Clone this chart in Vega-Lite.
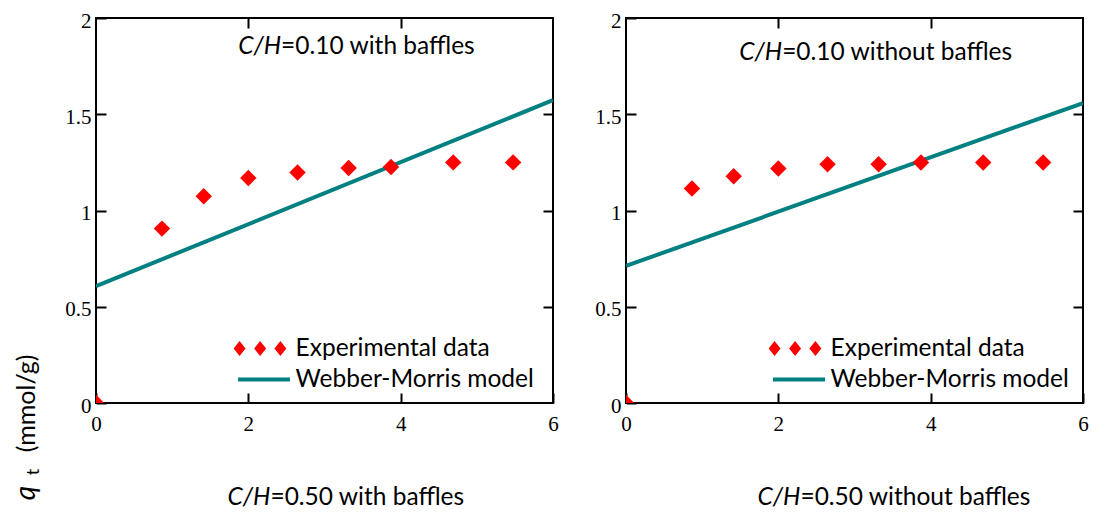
{
  "$schema": "https://vega.github.io/schema/vega-lite/v6.json",
  "padding": {"left": 12, "top": 9, "right": 0, "bottom": 0},
  "background": "white",
  "datasets": {
    "kinetics": [
      {"panel": "with baffles", "series": "Experimental data", "sqrt_t": 0, "qt": 0},
      {"panel": "with baffles", "series": "Experimental data", "sqrt_t": 0.866, "qt": 0.906},
      {"panel": "with baffles", "series": "Experimental data", "sqrt_t": 1.414, "qt": 1.074},
      {"panel": "with baffles", "series": "Experimental data", "sqrt_t": 2.0, "qt": 1.169},
      {"panel": "with baffles", "series": "Experimental data", "sqrt_t": 2.646, "qt": 1.197},
      {"panel": "with baffles", "series": "Experimental data", "sqrt_t": 3.317, "qt": 1.221},
      {"panel": "with baffles", "series": "Experimental data", "sqrt_t": 3.873, "qt": 1.226},
      {"panel": "with baffles", "series": "Experimental data", "sqrt_t": 4.69, "qt": 1.25},
      {"panel": "with baffles", "series": "Experimental data", "sqrt_t": 5.477, "qt": 1.25},
      {"panel": "with baffles", "series": "Webber-Morris model", "sqrt_t": 0, "qt": 0.607},
      {"panel": "with baffles", "series": "Webber-Morris model", "sqrt_t": 6, "qt": 1.573},
      {"panel": "without baffles", "series": "Experimental data", "sqrt_t": 0, "qt": 0},
      {"panel": "without baffles", "series": "Experimental data", "sqrt_t": 0.866, "qt": 1.114},
      {"panel": "without baffles", "series": "Experimental data", "sqrt_t": 1.414, "qt": 1.178},
      {"panel": "without baffles", "series": "Experimental data", "sqrt_t": 2.0, "qt": 1.218},
      {"panel": "without baffles", "series": "Experimental data", "sqrt_t": 2.646, "qt": 1.24},
      {"panel": "without baffles", "series": "Experimental data", "sqrt_t": 3.317, "qt": 1.24},
      {"panel": "without baffles", "series": "Experimental data", "sqrt_t": 3.873, "qt": 1.249},
      {"panel": "without baffles", "series": "Experimental data", "sqrt_t": 4.69, "qt": 1.249},
      {"panel": "without baffles", "series": "Experimental data", "sqrt_t": 5.477, "qt": 1.249},
      {"panel": "without baffles", "series": "Webber-Morris model", "sqrt_t": 0, "qt": 0.712},
      {"panel": "without baffles", "series": "Webber-Morris model", "sqrt_t": 6, "qt": 1.558}
    ]
  },
  "spacing": 73,
  "bounds": "flush",
  "resolve": {"scale": {"color": "independent"}},
  "hconcat": [
    {
      "width": 457,
      "height": 385,
      "resolve": {"axis": {"x": "independent", "y": "independent"}},
      "layer": [
        {
          "data": {"name": "kinetics"},
          "transform": [{"filter": "datum.panel === 'with baffles' && datum.series === 'Webber-Morris model'"}],
          "mark": {"type": "line", "strokeWidth": 4, "clip": true},
          "encoding": {
            "x": {"field": "sqrt_t", "type": "quantitative", "scale": {"domain": [0, 6], "nice": false, "zero": false},
                  "axis": {"orient": "bottom", "values": [0, 2, 4, 6], "title": null, "labelPadding": 20, "labelFont": "Liberation Serif", "labelFontSize": 21}},
            "y": {"field": "qt", "type": "quantitative", "scale": {"domain": [0, 2], "nice": false},
                  "axis": {"orient": "left", "values": [0, 0.5, 1, 1.5, 2], "format": "~g", "title": null, "labelPadding": 15, "labelOffset": 3, "labelFont": "Liberation Serif", "labelFontSize": 21}},
            "color": {"field": "series", "type": "nominal",
                      "scale": {"domain": ["Experimental data", "Webber-Morris model"], "range": ["#ff0000", "#008080"]},
                      "legend": {"orient": "none", "legendX": 137.6, "legendY": 315, "title": null, "padding": 0,
                                 "symbolSize": 2704, "clipHeight": 31, "rowPadding": 0, "labelOffset": 10,
                                 "labelFont": "Lato", "labelFontSize": 24.5, "labelColor": "black", "labelLimit": 400,
                                 "encode": {"symbols": {"update": {
                                   "shape": [{"test": "datum.value === 'Experimental data'", "value": "M-1,0L-0.77,-0.29L-0.54,0L-0.77,0.29Z M-0.21,0L0.02,-0.29L0.25,0L0.02,0.29Z M0.57,0L0.8,-0.29L1.03,0L0.8,0.29Z"}, {"value": "M-0.83,-0.077L1.17,-0.077L1.17,0.077L-0.83,0.077Z"}],
                                   "fill": [{"test": "datum.value === 'Experimental data'", "value": "#ff0000"}, {"value": "#008080"}],
                                   "stroke": {"value": "transparent"},
                                   "strokeWidth": {"value": 0},
                                   "opacity": {"value": 1}
                                 }}}}}
          }
        },
        {
          "data": {"name": "kinetics"},
          "transform": [{"filter": "datum.panel === 'with baffles' && datum.series === 'Experimental data'"}],
          "mark": {"type": "point", "shape": "diamond", "filled": true, "size": 270, "opacity": 1, "clip": true},
          "encoding": {
            "x": {"field": "sqrt_t", "type": "quantitative", "axis": {"orient": "top", "values": [2, 4], "labels": false, "title": null}},
            "y": {"field": "qt", "type": "quantitative", "axis": {"orient": "right", "values": [0.5, 1, 1.5], "labels": false, "title": null}},
            "color": {"field": "series", "type": "nominal"}
          }
        },
        {
          "data": {"values": [{"label": "C/H"}]},
          "mark": {"type": "text", "font": "Lato", "fontSize": 24.5, "fontStyle": "italic", "align": "right", "baseline": "alphabetic", "color": "black"},
          "encoding": {"text": {"field": "label"}, "x": {"datum": 2.43, "type": "quantitative", "axis": null}, "y": {"datum": 1.811, "type": "quantitative", "axis": null}}
        },
        {
          "data": {"values": [{"label": "=0.10 with baffles"}]},
          "mark": {"type": "text", "font": "Lato", "fontSize": 24.5, "align": "left", "baseline": "alphabetic", "color": "black"},
          "encoding": {"text": {"field": "label"}, "x": {"datum": 2.43, "type": "quantitative", "axis": null}, "y": {"datum": 1.811, "type": "quantitative", "axis": null}}
        },
        {
          "data": {"values": [{"label": "C/H"}]},
          "mark": {"type": "text", "font": "Lato", "fontSize": 24.5, "fontStyle": "italic", "align": "right", "baseline": "alphabetic", "color": "black"},
          "encoding": {"text": {"field": "label"}, "x": {"datum": 2.29, "type": "quantitative", "axis": null}, "y": {"datum": -0.531, "type": "quantitative", "axis": null}}
        },
        {
          "data": {"values": [{"label": "=0.50 with baffles"}]},
          "mark": {"type": "text", "font": "Lato", "fontSize": 24.5, "align": "left", "baseline": "alphabetic", "color": "black"},
          "encoding": {"text": {"field": "label"}, "x": {"datum": 2.29, "type": "quantitative", "axis": null}, "y": {"datum": -0.531, "type": "quantitative", "axis": null}}
        },
        {
          "data": {"values": [{"label": "q"}]},
          "mark": {"type": "text", "font": "Lato", "fontSize": 28, "fontStyle": "italic", "align": "left", "baseline": "alphabetic", "angle": 270, "color": "black"},
          "encoding": {"text": {"field": "label"}, "x": {"datum": -0.797, "type": "quantitative", "axis": null}, "y": {"datum": -0.505, "type": "quantitative", "axis": null}}
        },
        {
          "data": {"values": [{"label": "t"}]},
          "mark": {"type": "text", "font": "Lato", "fontSize": 18, "align": "left", "baseline": "alphabetic", "angle": 270, "color": "black"},
          "encoding": {"text": {"field": "label"}, "x": {"datum": -0.75, "type": "quantitative", "axis": null}, "y": {"datum": -0.375, "type": "quantitative", "axis": null}}
        },
        {
          "data": {"values": [{"label": "(mmol/g)"}]},
          "mark": {"type": "text", "font": "Lato", "fontSize": 25, "align": "left", "baseline": "alphabetic", "angle": 270, "color": "black"},
          "encoding": {"text": {"field": "label"}, "x": {"datum": -0.797, "type": "quantitative", "axis": null}, "y": {"datum": -0.256, "type": "quantitative", "axis": null}}
        }
      ]
    },
    {
      "width": 457,
      "height": 385,
      "resolve": {"axis": {"x": "independent", "y": "independent"}},
      "layer": [
        {
          "data": {"name": "kinetics"},
          "transform": [{"filter": "datum.panel === 'without baffles' && datum.series === 'Webber-Morris model'"}],
          "mark": {"type": "line", "strokeWidth": 4, "clip": true},
          "encoding": {
            "x": {"field": "sqrt_t", "type": "quantitative", "scale": {"domain": [0, 6], "nice": false, "zero": false},
                  "axis": {"orient": "bottom", "values": [0, 2, 4, 6], "title": null, "labelPadding": 20, "labelFont": "Liberation Serif", "labelFontSize": 21}},
            "y": {"field": "qt", "type": "quantitative", "scale": {"domain": [0, 2], "nice": false},
                  "axis": {"orient": "left", "values": [0, 0.5, 1, 1.5, 2], "format": "~g", "title": null, "labelPadding": 15, "labelOffset": 3, "labelFont": "Liberation Serif", "labelFontSize": 21}},
            "color": {"field": "series", "type": "nominal",
                      "scale": {"domain": ["Experimental data", "Webber-Morris model"], "range": ["#ff0000", "#008080"]},
                      "legend": {"orient": "none", "legendX": 142.6, "legendY": 315, "title": null, "padding": 0,
                                 "symbolSize": 2704, "clipHeight": 31, "rowPadding": 0, "labelOffset": 10,
                                 "labelFont": "Lato", "labelFontSize": 24.5, "labelColor": "black", "labelLimit": 400,
                                 "encode": {"symbols": {"update": {
                                   "shape": [{"test": "datum.value === 'Experimental data'", "value": "M-1,0L-0.77,-0.29L-0.54,0L-0.77,0.29Z M-0.21,0L0.02,-0.29L0.25,0L0.02,0.29Z M0.57,0L0.8,-0.29L1.03,0L0.8,0.29Z"}, {"value": "M-0.83,-0.077L1.17,-0.077L1.17,0.077L-0.83,0.077Z"}],
                                   "fill": [{"test": "datum.value === 'Experimental data'", "value": "#ff0000"}, {"value": "#008080"}],
                                   "stroke": {"value": "transparent"},
                                   "strokeWidth": {"value": 0},
                                   "opacity": {"value": 1}
                                 }}}}}
          }
        },
        {
          "data": {"name": "kinetics"},
          "transform": [{"filter": "datum.panel === 'without baffles' && datum.series === 'Experimental data'"}],
          "mark": {"type": "point", "shape": "diamond", "filled": true, "size": 270, "opacity": 1, "clip": true},
          "encoding": {
            "x": {"field": "sqrt_t", "type": "quantitative", "axis": {"orient": "top", "values": [2, 4], "labels": false, "title": null}},
            "y": {"field": "qt", "type": "quantitative", "axis": {"orient": "right", "values": [0.5, 1, 1.5], "labels": false, "title": null}},
            "color": {"field": "series", "type": "nominal"}
          }
        },
        {
          "data": {"values": [{"label": "C/H"}]},
          "mark": {"type": "text", "font": "Lato", "fontSize": 24.5, "fontStyle": "italic", "align": "right", "baseline": "alphabetic", "color": "black"},
          "encoding": {"text": {"field": "label"}, "x": {"datum": 2.05, "type": "quantitative", "axis": null}, "y": {"datum": 1.78, "type": "quantitative", "axis": null}}
        },
        {
          "data": {"values": [{"label": "=0.10 without baffles"}]},
          "mark": {"type": "text", "font": "Lato", "fontSize": 24.5, "align": "left", "baseline": "alphabetic", "color": "black"},
          "encoding": {"text": {"field": "label"}, "x": {"datum": 2.05, "type": "quantitative", "axis": null}, "y": {"datum": 1.78, "type": "quantitative", "axis": null}}
        },
        {
          "data": {"values": [{"label": "C/H"}]},
          "mark": {"type": "text", "font": "Lato", "fontSize": 24.5, "fontStyle": "italic", "align": "right", "baseline": "alphabetic", "color": "black"},
          "encoding": {"text": {"field": "label"}, "x": {"datum": 2.29, "type": "quantitative", "axis": null}, "y": {"datum": -0.531, "type": "quantitative", "axis": null}}
        },
        {
          "data": {"values": [{"label": "=0.50 without baffles"}]},
          "mark": {"type": "text", "font": "Lato", "fontSize": 24.5, "align": "left", "baseline": "alphabetic", "color": "black"},
          "encoding": {"text": {"field": "label"}, "x": {"datum": 2.29, "type": "quantitative", "axis": null}, "y": {"datum": -0.531, "type": "quantitative", "axis": null}}
        }
      ]
    }
  ],
  "config": {
    "view": {"stroke": "black", "strokeWidth": 2},
    "axis": {"grid": false, "domain": false, "tickColor": "black", "tickWidth": 2, "tickSize": -10,
             "labelFont": "Liberation Serif", "labelFontSize": 21, "labelColor": "black",
             "labelFlush": false, "labelOverlap": false}
  }
}
